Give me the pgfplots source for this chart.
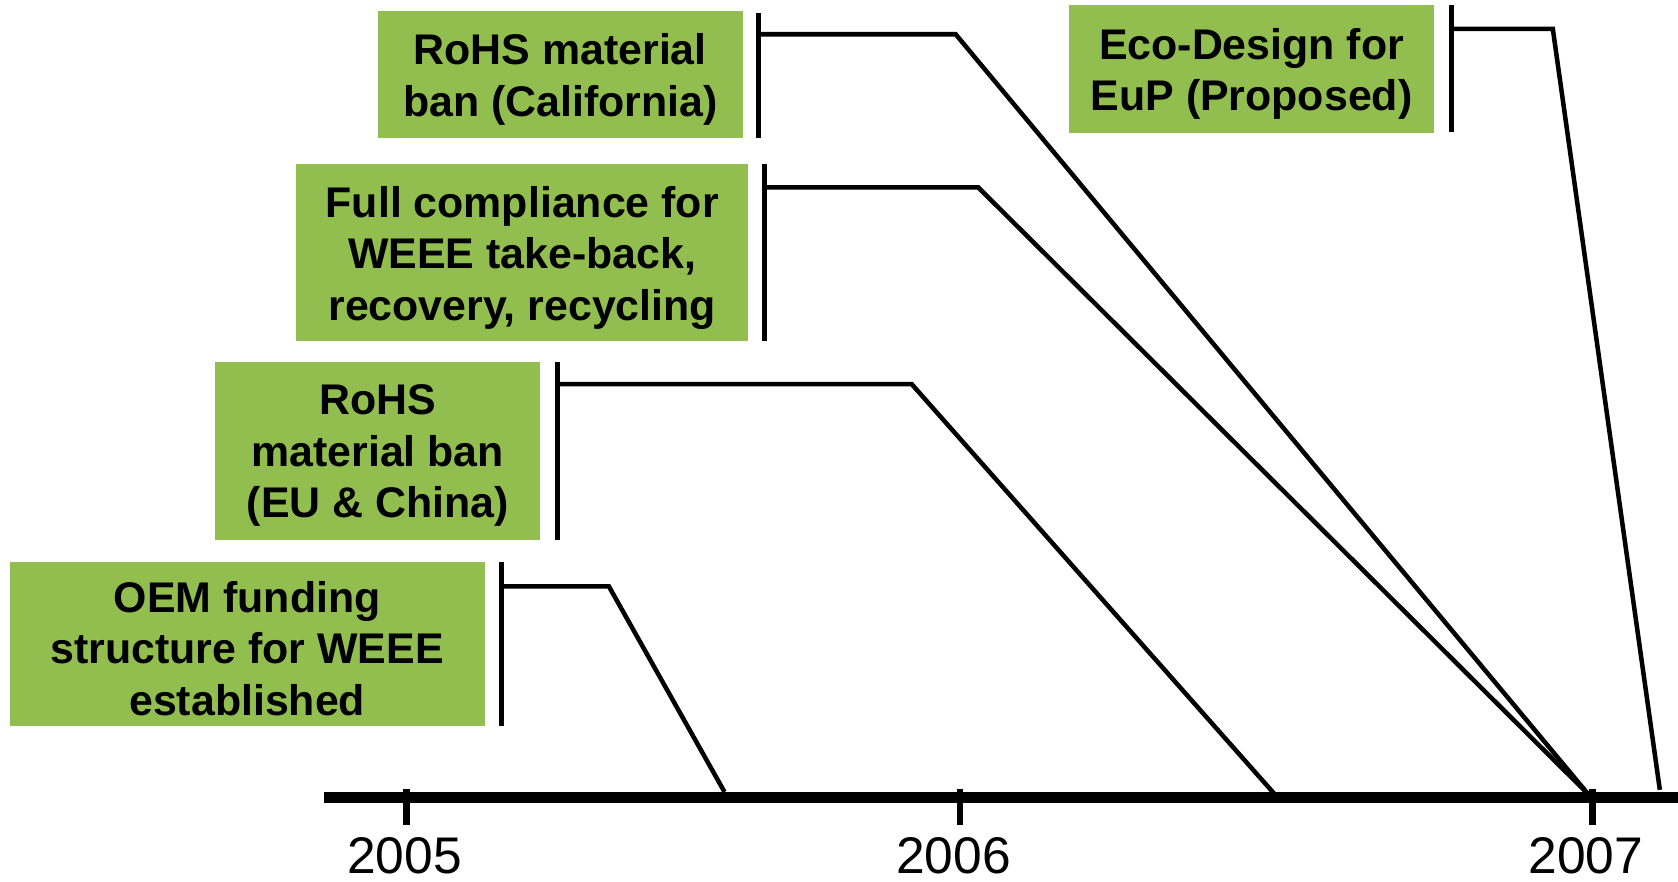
\documentclass[border=0pt]{standalone}
\usepackage{pgfplots}
\pgfplotsset{compat=1.18}
\usepackage{fontspec}
\setmainfont{Liberation Sans}
\definecolor{boxgreen}{RGB}{146,190,80}
\begin{document}
\begin{tikzpicture}
\begin{axis}[name=ax, scale only axis, width=15.68cm, height=8.24cm,
  xmin=0, xmax=1568, ymin=0, ymax=824, y dir=reverse, hide axis, clip=false]
% boxes
\addplot[fill=boxgreen, draw=none] coordinates {(353,10)(694,10)(694,129)(353,129)};
\addplot[fill=boxgreen, draw=none] coordinates {(999,5)(1340,5)(1340,124)(999,124)};
\addplot[fill=boxgreen, draw=none] coordinates {(277,153)(699,153)(699,319)(277,319)};
\addplot[fill=boxgreen, draw=none] coordinates {(201,338)(505,338)(505,505)(201,505)};
\addplot[fill=boxgreen, draw=none] coordinates {(9,525)(453,525)(453,678)(9,678)};
% brackets
\addplot[line width=1.3pt] coordinates {(709,12)(709,129)};
\addplot[line width=1.3pt] coordinates {(1356,5)(1356,123)};
\addplot[line width=1.3pt] coordinates {(714,153)(714,319)};
\addplot[line width=1.3pt] coordinates {(521,338)(521,505)};
\addplot[line width=1.3pt] coordinates {(469,525)(469,678)};
% connectors
\addplot[line width=1.2pt] coordinates {(709,32)(893,32)(1484,742)};
\addplot[line width=1.2pt] coordinates {(1356,27)(1451,27)(1551,738)};
\addplot[line width=1.2pt] coordinates {(714,175)(914,175)(1484,742)};
\addplot[line width=1.2pt] coordinates {(521,359)(852,359)(1191,742)};
\addplot[line width=1.2pt] coordinates {(469,548)(569,548)(677,740)};
% timeline
\addplot[line width=2.8pt] coordinates {(303,745)(1568,745)};
\addplot[line width=1.7pt] coordinates {(380,737)(380,771)};
\addplot[line width=1.7pt] coordinates {(897,737)(897,771)};
\addplot[line width=1.7pt] coordinates {(1488,737)(1488,771)};
% texts
\begin{scope}[every node/.style={align=center, inner sep=0pt, font=\fontsize{11.4pt}{13.7pt}\selectfont\bfseries}]
\node at (axis cs:523.5,74) {RoHS material\\ban (California)};
\node at (axis cs:1169.5,69) {Eco-Design for\\EuP (Proposed)};
\node at (axis cs:488,241) {Full compliance for\\WEEE take-back,\\recovery, recycling};
\node at (axis cs:353,426) {RoHS\\material ban\\(EU \& China)};
\node at (axis cs:231,606) {OEM funding\\structure for WEEE\\established};
\end{scope}
\begin{scope}[every node/.style={inner sep=0pt, font=\fontsize{13.7pt}{16pt}\selectfont}]
\node at (axis cs:378,800) {2005};
\node at (axis cs:891,800) {2006};
\node at (axis cs:1482,800) {2007};
\end{scope}
\end{axis}
\pgfresetboundingbox
\path (ax.south west) rectangle (ax.north east);
\end{tikzpicture}
\end{document}
